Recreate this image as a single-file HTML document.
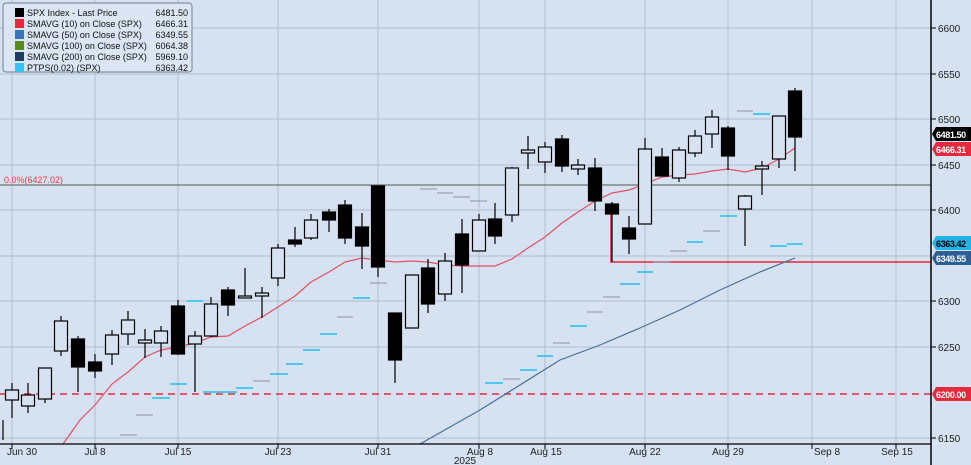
<!DOCTYPE html>
<html><head><meta charset="utf-8"><style>
body{margin:0;background:#d6e2f2;}
svg{display:block;font-family:"Liberation Sans",sans-serif;}
</style></head><body>
<svg width="971" height="465" viewBox="0 0 971 465">
<rect width="971" height="465" fill="#d6e2f2"/>
<g stroke="#b3bfd0" stroke-width="1">
<line x1="0" y1="28" x2="931" y2="28"/><line x1="0" y1="74" x2="931" y2="74"/>
<line x1="0" y1="119" x2="931" y2="119"/><line x1="0" y1="165" x2="931" y2="165"/>
<line x1="0" y1="210" x2="931" y2="210"/><line x1="0" y1="256" x2="931" y2="256"/>
<line x1="0" y1="301" x2="931" y2="301"/><line x1="0" y1="347" x2="931" y2="347"/>
<line x1="0" y1="438" x2="931" y2="438"/>
<line x1="12" y1="0" x2="12" y2="444"/><line x1="95" y1="0" x2="95" y2="444"/>
<line x1="178" y1="0" x2="178" y2="444"/><line x1="278" y1="0" x2="278" y2="444"/>
<line x1="378" y1="0" x2="378" y2="444"/><line x1="479" y1="0" x2="479" y2="444"/>
<line x1="545" y1="0" x2="545" y2="444"/><line x1="645" y1="0" x2="645" y2="444"/>
<line x1="728" y1="0" x2="728" y2="444"/><line x1="812" y1="0" x2="812" y2="444"/>
<line x1="896" y1="0" x2="896" y2="444"/>
</g>
<line x1="0" y1="185" x2="931" y2="185" stroke="#555" stroke-width="1"/>
<text x="4" y="183" font-size="9" fill="#e04040">0.0%(6427.02)</text>
<line x1="0" y1="394" x2="931" y2="394" stroke="#e8283c" stroke-width="1.5" stroke-dasharray="7,5"/>
<polyline points="611,212 611,262 931,262" fill="none" stroke="#e8283c" stroke-width="1.5"/>
<g stroke="#22c0ee" stroke-width="1.5">
<line x1="152" y1="398" x2="170" y2="398"/><line x1="170" y1="384" x2="187" y2="384"/>
<line x1="203" y1="392" x2="237" y2="392"/><line x1="236" y1="388" x2="253" y2="388"/>
<line x1="270" y1="374" x2="288" y2="374"/><line x1="286" y1="364" x2="303" y2="364"/>
<line x1="303" y1="350" x2="320" y2="350"/><line x1="187" y1="301" x2="203" y2="301"/>
<line x1="320" y1="334" x2="337" y2="334"/><line x1="353" y1="298" x2="370" y2="298"/>
<line x1="485" y1="383" x2="503" y2="383"/><line x1="520" y1="370" x2="537" y2="370"/>
<line x1="537" y1="356" x2="553" y2="356"/><line x1="570" y1="326" x2="587" y2="326"/>
<line x1="620" y1="284" x2="640" y2="284"/><line x1="637" y1="272" x2="653" y2="272"/>
<line x1="687" y1="242" x2="703" y2="242"/><line x1="720" y1="216" x2="737" y2="216"/>
<line x1="753" y1="114" x2="770" y2="114"/><line x1="770" y1="246" x2="787" y2="246"/>
<line x1="787" y1="244" x2="803" y2="244"/>
</g>
<g stroke="#8a93a3" stroke-width="1">
<line x1="120" y1="435" x2="137" y2="435"/><line x1="136" y1="415" x2="153" y2="415"/>
<line x1="253" y1="381" x2="270" y2="381"/><line x1="337" y1="317" x2="353" y2="317"/>
<line x1="370" y1="283" x2="387" y2="283"/><line x1="420" y1="189" x2="437" y2="189"/>
<line x1="437" y1="193" x2="453" y2="193"/><line x1="453" y1="197" x2="470" y2="197"/>
<line x1="470" y1="201" x2="487" y2="201"/><line x1="503" y1="379" x2="520" y2="379"/>
<line x1="553" y1="343" x2="570" y2="343"/><line x1="587" y1="312" x2="603" y2="312"/>
<line x1="603" y1="297" x2="620" y2="297"/><line x1="653" y1="262" x2="670" y2="262"/>
<line x1="670" y1="251" x2="687" y2="251"/><line x1="703" y1="231" x2="720" y2="231"/>
<line x1="737" y1="111" x2="753" y2="111"/>
</g>
<polyline fill="none" stroke="#e35060" stroke-width="1.2" points="63,444 80,420 95,405 112,384 128,372 145,357 161,350 178,347 195,343 211,337 228,336 245,326 262,317 278,307 295,296 311,282 329,272 345,262 362,258 378,260 395,262 412,261 428,262 445,265 462,266 479,266 495,266 512,259 528,248 545,237 562,223 578,212 595,201 612,193 629,190 645,184 662,177 679,175 695,174 712,171 728,169 745,172 762,168 779,159 795,148"/>
<polyline fill="none" stroke="#4a6f9a" stroke-width="1.2" points="420,444 450,427 480,410 520,385 560,360 600,345 640,328 680,310 720,290 760,272 795,258"/>
<g stroke="#000" stroke-width="1.2">
<line x1="3" y1="420" x2="3" y2="440"/>
<line x1="12" y1="383" x2="12" y2="418"/><rect x="5.5" y="390" width="13" height="10" fill="#d6e2f2"/>
<line x1="28" y1="383" x2="28" y2="413"/><rect x="21.5" y="395" width="13" height="11" fill="#d6e2f2"/>
<line x1="45" y1="368" x2="45" y2="403"/><rect x="38.5" y="368" width="13" height="31" fill="#d6e2f2"/>
<line x1="61" y1="316" x2="61" y2="356"/><rect x="54.5" y="321" width="13" height="30" fill="#d6e2f2"/>
<line x1="78" y1="336" x2="78" y2="392"/><rect x="71.5" y="339" width="13" height="28" fill="#000"/>
<line x1="95" y1="354" x2="95" y2="378"/><rect x="88.5" y="362" width="13" height="9" fill="#000"/>
<line x1="112" y1="330" x2="112" y2="365"/><rect x="105.5" y="335" width="13" height="19" fill="#d6e2f2"/>
<line x1="128" y1="311" x2="128" y2="345"/><rect x="121.5" y="320" width="13" height="14" fill="#d6e2f2"/>
<line x1="145" y1="329" x2="145" y2="358"/><rect x="138.5" y="340" width="13" height="3" fill="#d6e2f2"/>
<line x1="161" y1="326" x2="161" y2="357"/><rect x="154.5" y="331" width="13" height="12" fill="#d6e2f2"/>
<line x1="178" y1="300" x2="178" y2="355"/><rect x="171.5" y="306" width="13" height="48" fill="#000"/>
<line x1="195" y1="331" x2="195" y2="392"/><rect x="188.5" y="336" width="13" height="8" fill="#d6e2f2"/>
<line x1="211" y1="297" x2="211" y2="337"/><rect x="204.5" y="304" width="13" height="32" fill="#d6e2f2"/>
<line x1="228" y1="287" x2="228" y2="316"/><rect x="221.5" y="290" width="13" height="15" fill="#000"/>
<line x1="245" y1="268" x2="245" y2="298"/><rect x="238.5" y="296" width="13" height="2" fill="#d6e2f2"/>
<line x1="262" y1="287" x2="262" y2="318"/><rect x="255.5" y="293" width="13" height="3" fill="#d6e2f2"/>
<line x1="278" y1="244" x2="278" y2="286"/><rect x="271.5" y="248" width="13" height="30" fill="#d6e2f2"/>
<line x1="295" y1="227" x2="295" y2="247"/><rect x="288.5" y="240" width="13" height="4" fill="#000"/>
<line x1="311" y1="214" x2="311" y2="240"/><rect x="304.5" y="220" width="13" height="18" fill="#d6e2f2"/>
<line x1="329" y1="209" x2="329" y2="232"/><rect x="322.5" y="212" width="13" height="8" fill="#000"/>
<line x1="345" y1="200" x2="345" y2="244"/><rect x="338.5" y="205" width="13" height="33" fill="#000"/>
<line x1="362" y1="213" x2="362" y2="269"/><rect x="355.5" y="227" width="13" height="19" fill="#000"/>
<line x1="378" y1="186" x2="378" y2="277"/><rect x="371.5" y="186" width="13" height="81" fill="#000"/>
<line x1="395" y1="313" x2="395" y2="383"/><rect x="388.5" y="313" width="13" height="47" fill="#000"/>
<line x1="412" y1="275" x2="412" y2="328"/><rect x="405.5" y="275" width="13" height="53" fill="#d6e2f2"/>
<line x1="428" y1="259" x2="428" y2="313"/><rect x="421.5" y="268" width="13" height="36" fill="#000"/>
<line x1="445" y1="253" x2="445" y2="301"/><rect x="438.5" y="261" width="13" height="33" fill="#d6e2f2"/>
<line x1="462" y1="219" x2="462" y2="293"/><rect x="455.5" y="234" width="13" height="31" fill="#000"/>
<line x1="479" y1="214" x2="479" y2="251"/><rect x="472.5" y="220" width="13" height="31" fill="#d6e2f2"/>
<line x1="495" y1="203" x2="495" y2="244"/><rect x="488.5" y="219" width="13" height="17" fill="#000"/>
<line x1="512" y1="167" x2="512" y2="222"/><rect x="505.5" y="168" width="13" height="47" fill="#d6e2f2"/>
<line x1="528" y1="136" x2="528" y2="169"/><rect x="521.5" y="150" width="13" height="3" fill="#d6e2f2"/>
<line x1="545" y1="142" x2="545" y2="173"/><rect x="538.5" y="147" width="13" height="15" fill="#d6e2f2"/>
<line x1="562" y1="135" x2="562" y2="172"/><rect x="555.5" y="139" width="13" height="27" fill="#000"/>
<line x1="578" y1="159" x2="578" y2="175"/><rect x="571.5" y="165" width="13" height="4" fill="#d6e2f2"/>
<line x1="595" y1="158" x2="595" y2="211"/><rect x="588.5" y="168" width="13" height="33" fill="#000"/>
<line x1="612" y1="202" x2="612" y2="262"/><rect x="605.5" y="204" width="13" height="10" fill="#000"/>
<line x1="629" y1="216" x2="629" y2="254"/><rect x="622.5" y="228" width="13" height="11" fill="#000"/>
<line x1="645" y1="138" x2="645" y2="224"/><rect x="638.5" y="149" width="13" height="75" fill="#d6e2f2"/>
<line x1="662" y1="148" x2="662" y2="176"/><rect x="655.5" y="157" width="13" height="19" fill="#000"/>
<line x1="679" y1="147" x2="679" y2="182"/><rect x="672.5" y="150" width="13" height="28" fill="#d6e2f2"/>
<line x1="695" y1="130" x2="695" y2="157"/><rect x="688.5" y="136" width="13" height="17" fill="#d6e2f2"/>
<line x1="712" y1="110" x2="712" y2="148"/><rect x="705.5" y="117" width="13" height="17" fill="#d6e2f2"/>
<line x1="728" y1="126" x2="728" y2="170"/><rect x="721.5" y="128" width="13" height="28" fill="#000"/>
<line x1="745" y1="195" x2="745" y2="246"/><rect x="738.5" y="196" width="13" height="13" fill="#d6e2f2"/>
<line x1="762" y1="161" x2="762" y2="195"/><rect x="755.5" y="166" width="13" height="3" fill="#d6e2f2"/>
<line x1="779" y1="116" x2="779" y2="168"/><rect x="772.5" y="116" width="13" height="43" fill="#d6e2f2"/>
<line x1="795" y1="88" x2="795" y2="171"/><rect x="788.5" y="91" width="13" height="46" fill="#000"/>
</g>
<line x1="931" y1="0" x2="931" y2="465" stroke="#000" stroke-width="1.5"/>
<line x1="0" y1="444" x2="931" y2="444" stroke="#000" stroke-width="1.2"/>
<g font-size="10" fill="#222">
<text x="938" y="32">6600</text><text x="938" y="78">6550</text><text x="938" y="123">6500</text>
<text x="938" y="169">6450</text><text x="938" y="214">6400</text><text x="938" y="305">6300</text>
<text x="938" y="351">6250</text><text x="938" y="442">6150</text>
</g>
<g stroke="#000"><line x1="931" y1="28" x2="936" y2="28"/><line x1="931" y1="74" x2="936" y2="74"/><line x1="931" y1="119" x2="936" y2="119"/><line x1="931" y1="165" x2="936" y2="165"/><line x1="931" y1="210" x2="936" y2="210"/><line x1="931" y1="301" x2="936" y2="301"/><line x1="931" y1="347" x2="936" y2="347"/><line x1="931" y1="438" x2="936" y2="438"/></g>
<g font-size="9" font-weight="bold" letter-spacing="-0.4">
<path d="M932,134 l4,-7 h35 v14 h-35z" fill="#000"/><text x="936" y="138" fill="#fff">6481.50</text>
<path d="M932,149 l4,-7 h35 v14 h-35z" fill="#e8283c"/><text x="936" y="153" fill="#fff">6466.31</text>
<path d="M932,243 l4,-7 h35 v14 h-35z" fill="#22b4e8"/><text x="936" y="247" fill="#000">6363.42</text>
<path d="M932,258 l4,-7 h35 v14 h-35z" fill="#2b5f96"/><text x="936" y="262" fill="#fff">6349.55</text>
<path d="M932,394 l4,-7 h35 v14 h-35z" fill="#e8283c"/><text x="936" y="398" fill="#fff">6200.00</text>
</g>
<g stroke="#000"><line x1="12" y1="444" x2="12" y2="449"/><line x1="95" y1="444" x2="95" y2="449"/><line x1="178" y1="444" x2="178" y2="449"/><line x1="278" y1="444" x2="278" y2="449"/><line x1="378" y1="444" x2="378" y2="449"/><line x1="479" y1="444" x2="479" y2="449"/><line x1="545" y1="444" x2="545" y2="449"/><line x1="645" y1="444" x2="645" y2="449"/><line x1="728" y1="444" x2="728" y2="449"/><line x1="812" y1="444" x2="812" y2="449"/><line x1="896" y1="444" x2="896" y2="449"/></g>
<g font-size="10" fill="#222" text-anchor="middle">
<text x="22" y="455">Jun 30</text><text x="95" y="455">Jul 8</text><text x="178" y="455">Jul 15</text>
<text x="278" y="455">Jul 23</text><text x="378" y="455">Jul 31</text><text x="480" y="455">Aug 8</text>
<text x="546" y="455">Aug 15</text><text x="645" y="455">Aug 22</text><text x="728" y="455">Aug 29</text>
<text x="827" y="455">Sep 8</text><text x="897" y="455">Sep 15</text><text x="465" y="464">2025</text>
</g>
<rect x="3" y="3" width="189" height="69" rx="3" fill="#dbe5f3" stroke="#6f7f95"/>
<g font-size="9" fill="#111">
<rect x="15" y="8" width="9" height="9" fill="#000"/><text x="27" y="16">SPX Index - Last Price</text><text x="188" y="16" text-anchor="end">6481.50</text>
<rect x="15" y="19" width="9" height="9" fill="#e8283c"/><text x="27" y="27">SMAVG (10)  on Close (SPX)</text><text x="188" y="27" text-anchor="end">6466.31</text>
<rect x="15" y="30" width="9" height="9" fill="#3a74b8"/><text x="27" y="38">SMAVG (50)  on Close (SPX)</text><text x="188" y="38" text-anchor="end">6349.55</text>
<rect x="15" y="41" width="9" height="9" fill="#5a8a1a"/><text x="27" y="49">SMAVG (100)  on Close (SPX)</text><text x="188" y="49" text-anchor="end">6064.38</text>
<rect x="15" y="52" width="9" height="9" fill="#203c60"/><text x="27" y="60">SMAVG (200)  on Close (SPX)</text><text x="188" y="60" text-anchor="end">5969.10</text>
<rect x="15" y="63" width="9" height="9" fill="#33c4f4"/><text x="27" y="71">PTPS(0.02) (SPX)</text><text x="188" y="71" text-anchor="end">6363.42</text>
</g>
</svg>
</body></html>
